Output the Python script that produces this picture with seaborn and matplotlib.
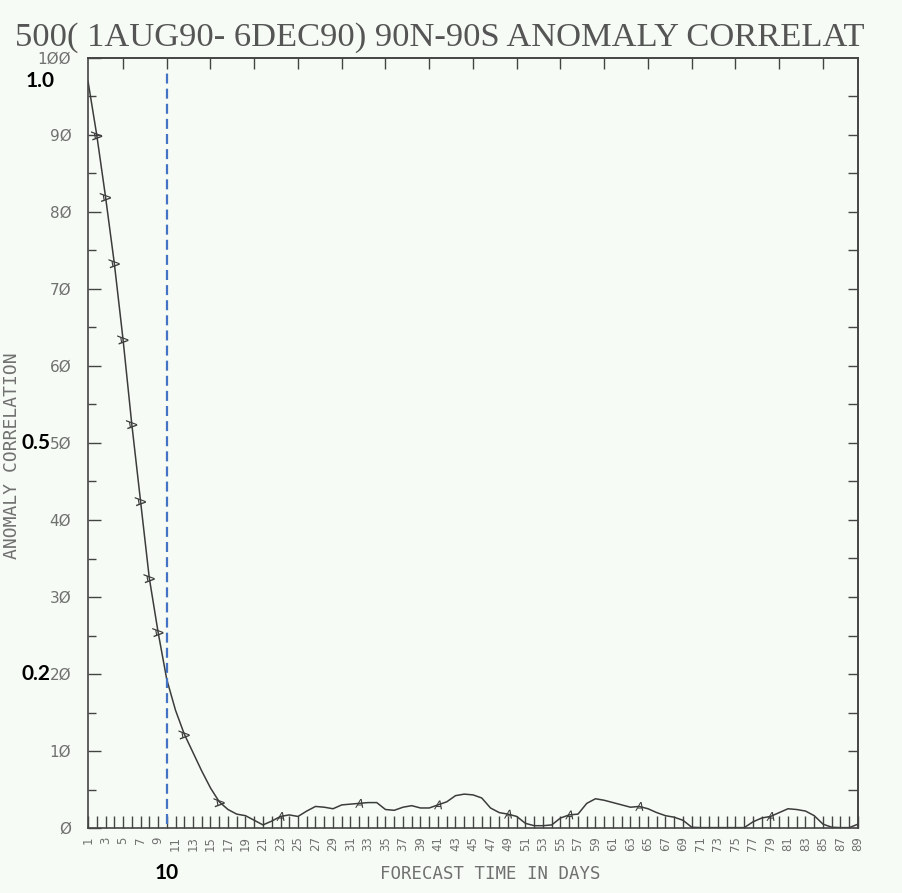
# anomaly correlation vs forecast day, 500 hPa, 1AUG90-6DEC90
import matplotlib.pyplot as plt
import matplotlib as mpl
from matplotlib.markers import MarkerStyle
from matplotlib.transforms import Affine2D
import numpy as np
import seaborn as sns

sns.set_style('white')
mpl.rcParams['font.family'] = ['DejaVu Sans']

BG = '#f6fcf5'
INK = '#3c3c3c'

# forecast day and anomaly correlation (x100)
days = np.arange(1, 90)
acc = np.array([
    97.0, 90.0, 82.0, 73.4, 63.5, 52.5, 42.5, 32.5, 25.5, 19.3,
    15.3, 12.2, 9.8, 7.4, 5.2, 3.4, 2.4, 1.8, 1.6, 1.0,
    0.4, 0.9, 1.5, 1.7, 1.5, 2.2, 2.8, 2.7, 2.5, 3.0,
    3.1, 3.2, 3.3, 3.3, 2.4, 2.3, 2.7, 2.9, 2.6, 2.6,
    3.0, 3.4, 4.2, 4.4, 4.3, 3.9, 2.6, 2.0, 1.8, 1.5,
    0.6, 0.3, 0.3, 0.4, 1.3, 1.7, 1.8, 3.2, 3.8, 3.6,
    3.3, 3.0, 2.7, 2.8, 2.5, 2.0, 1.6, 1.4, 1.0, 0.1,
    0.05, 0.05, 0.05, 0.05, 0.05, 0.05, 0.8, 1.3, 1.5, 2.0,
    2.5, 2.4, 2.2, 1.6, 0.5, 0.1, 0.05, 0.05, 0.5,
])
# days carrying the "A" line label
steep_label_days = np.array([2, 3, 4, 5, 6, 7, 8, 9, 12, 16])
flat_label_days = np.array([23, 32, 41, 49, 56, 64, 79])

x_major = np.arange(1, 90, 2)
x_labels = [str(d) for d in x_major]
x_minor = np.arange(2, 90, 2)
y_major = np.arange(0, 101, 10)
y_labels = ['Ø', '1Ø', '2Ø', '3Ø', '4Ø', '5Ø', '6Ø', '7Ø', '8Ø', '9Ø', '1ØØ']
y_minor = np.arange(5, 100, 10)
top_ticks = np.arange(5, 90, 5)
right_ticks = np.arange(5, 100, 5)

marked_day = 10
overlay = [('1.0', 97), ('0.5', 50), ('0.2', 20)]

fig = plt.figure(figsize=(9.03, 8.93), dpi=100, facecolor=BG)
ax = fig.add_axes([88 / 903, 65 / 893, 770 / 903, 770 / 893], facecolor=BG)

sns.lineplot(x=days, y=acc, ax=ax, color=INK, linewidth=1.1)
sns.scatterplot(x=steep_label_days, y=acc[steep_label_days - 1], ax=ax,
                marker=MarkerStyle('$A$', transform=Affine2D().rotate_deg(-80)),
                s=55, color=INK, edgecolor='none', zorder=3)
sns.scatterplot(x=flat_label_days, y=acc[flat_label_days - 1], ax=ax,
                marker='$A$', s=40, color=INK, edgecolor='none', zorder=3)

ax.axvline(marked_day, ymin=0.005, ymax=0.985, color='#4472c4', lw=1.6,
           linestyle=(0, (4.5, 2.3)))

ax.set_xlim(1, 89)
ax.set_ylim(0, 100)
ax.set_xticks(x_major, labels=x_labels)
ax.set_xticks(x_minor, minor=True)
ax.set_yticks(y_major, labels=y_labels)
ax.set_yticks(y_minor, minor=True)
ax.tick_params(axis='x', which='both', direction='in', length=9, width=1,
               color='#444', labelcolor='#707070', labelsize=8.5,
               labelrotation=90, pad=6, bottom=True)
ax.tick_params(axis='y', which='major', direction='in', length=9, width=1,
               color='#444', labelcolor='#707070', labelsize=11, pad=12, left=True)
ax.tick_params(axis='y', which='minor', direction='in', length=6, width=1,
               color='#444', left=True)

top = ax.secondary_xaxis('top')
top.set_xticks(top_ticks)
top.tick_params(axis='x', direction='in', length=8, width=1, color='#444',
                labeltop=False)
right = ax.secondary_yaxis('right')
right.set_yticks(right_ticks)
right.tick_params(axis='y', direction='in', length=7, width=1, color='#444',
                  labelright=False)
for a in (ax, top, right):
    for s in a.spines.values():
        s.set_color('#444')
        s.set_linewidth(1.2)

ax.set_xlabel('FORECAST TIME IN DAYS', family='DejaVu Sans Mono',
              fontsize=12.5, color='#707070')
ax.xaxis.set_label_coords((490 - 88) / 770, -0.048)
ax.set_ylabel('ANOMALY CORRELATION', family='DejaVu Sans Mono',
              fontsize=13, color='#707070')
ax.yaxis.set_label_coords((21 - 88) / 770, 0.484)

fig.text(15 / 903, 1 - 38 / 893, '500( 1AUG90- 6DEC90) 90N-90S ANOMALY CORRELAT',
         family='Liberation Serif', fontsize=24.8, color='#555', va='center', ha='left')

# bold overlay values sit just left of the original tick labels
for txt, yv in overlay:
    xr = (55 - 88) / 770 if yv > 90 else (50 - 88) / 770
    ax.text(xr, yv, txt, transform=ax.get_yaxis_transform(), ha='right',
            va='center', family='Lato', fontweight='bold', fontsize=15,
            color='black', clip_on=False)
ax.text(marked_day, -0.058, str(marked_day), transform=ax.get_xaxis_transform(),
        ha='center', va='center', family='Lato', fontweight='bold', fontsize=15,
        color='black', clip_on=False)

fig.savefig('out.png', dpi=100, facecolor=BG)
plt.close(fig)
